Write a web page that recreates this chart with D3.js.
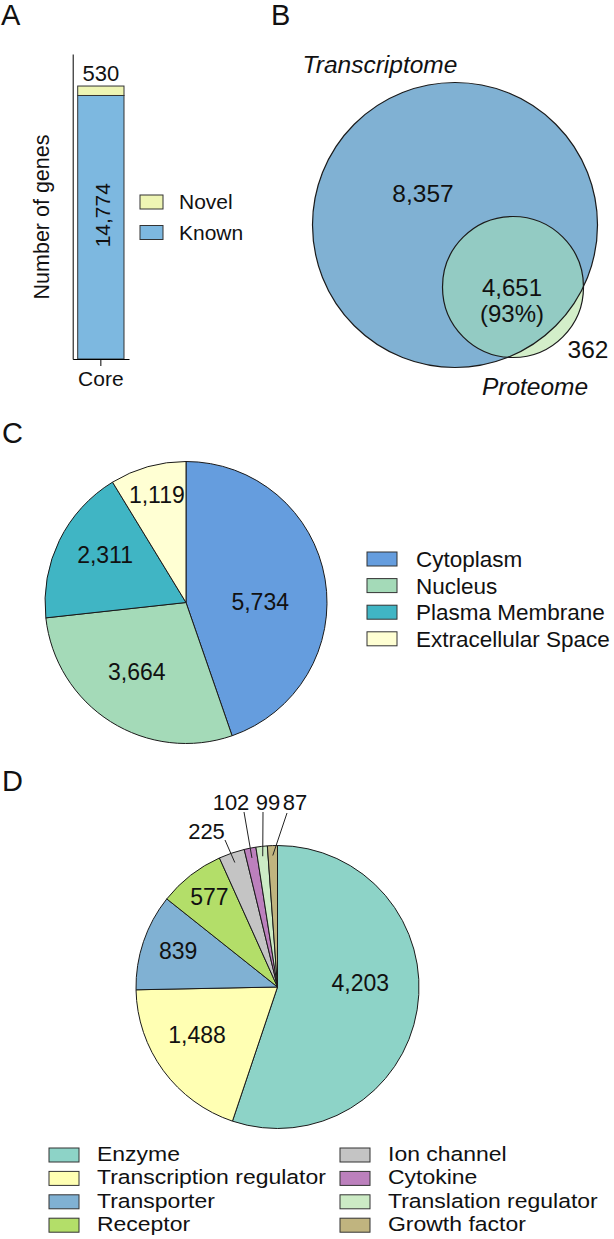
<!DOCTYPE html>
<html>
<head>
<meta charset="utf-8">
<script src="https://cdn.jsdelivr.net/npm/d3@7"></script>
<style>
  html, body { margin: 0; padding: 0; background: #fff; }
  svg { display: block; }
  text { font-family: "Liberation Sans", Arial, Helvetica, sans-serif; fill: #111; }
</style>
</head>
<body>
<svg id="fig" width="614" height="1239"></svg>
<script>
// ---------------- DATA ----------------
// Panel A: stacked bar
const barCategories = ["Core"];
const barSeries = ["Known", "Novel"];
const barKnown = [14774];
const barNovel = [530];
const barLegend = ["Novel", "Known"];
const barYLabel = "Number of genes";

// Panel B: Venn
const vennSets = ["Transcriptome", "Proteome"];
const vennTranscriptomeOnly = 8357;
const vennOverlap = 4651;
const vennProteomeOnly = 362;
const vennOverlapPct = "(93%)";

// Panel C: pie (cellular location)
const locCategories = ["Cytoplasm", "Nucleus", "Plasma Membrane", "Extracellular Space"];
const locValues = [5734, 3664, 2311, 1119];

// Panel D: pie (molecular type)
const typeCategories = ["Enzyme", "Transcription regulator", "Transporter", "Receptor",
                        "Ion channel", "Cytokine", "Translation regulator", "Growth factor"];
const typeValues = [4203, 1488, 839, 577, 225, 102, 99, 87];

// ---------------- STYLE ----------------
const barColors = { Known: "#7db8e0", Novel: "#eef5b4" };
const vennColors = { big: "#80b1d3", overlap: "#93cbc3", small: "#d3eec9" };
const locColors = ["#659dde", "#a4dab8", "#40b5c4", "#ffffd3"];
const typeColors = ["#8dd3c7", "#ffffb3", "#80b1d3", "#b3de69", "#c4c4c4", "#bc80bd", "#ccebc5", "#c0b47f"];
const stroke = "#1a1a1a";
const fmt = d3.format(",");

const svg = d3.select("#fig");

// stretch a text horizontally by a factor (reference glyphs are slightly wide)
function widen(sel, f) {
  sel.each(function () {
    const w = this.getComputedTextLength();
    d3.select(this).attr("textLength", w * f).attr("lengthAdjust", "spacingAndGlyphs");
  });
}

// Panel letters
[["A", 1, 25], ["B", 271, 25], ["C", 2, 443], ["D", 2, 791]].forEach(([t, x, y]) => {
  svg.append("text").attr("x", x).attr("y", y).attr("font-size", 29).text(t);
});

// ================= Panel A =================
(function () {
  const gA = svg.append("g");
  const y = d3.scaleLinear().domain([0, 17100]).range([359, 54]);
  const x = d3.scaleBand().domain(barCategories).range([72.7, 129]).paddingInner(0).paddingOuter(0.108);

  const rows = barCategories.map((c, i) => ({ cat: c, Known: barKnown[i], Novel: barNovel[i] }));
  const stacked = d3.stack().keys(barSeries)(rows);

  gA.selectAll("g.layer").data(stacked).join("g").attr("class", "layer")
    .attr("fill", d => barColors[d.key])
    .selectAll("rect").data(d => d).join("rect")
    .attr("x", d => x(d.data.cat))
    .attr("width", x.bandwidth())
    .attr("y", d => y(d[1]))
    .attr("height", d => y(d[0]) - y(d[1]))
    .attr("stroke", "#333").attr("stroke-width", 1);

  // axes
  gA.append("g").attr("transform", `translate(72.7,0)`)
    .call(d3.axisLeft(y).ticks(0).tickSizeOuter(0))
    .call(g => g.select(".domain").attr("stroke", "#000"));
  gA.append("g").attr("transform", `translate(0,359)`)
    .call(d3.axisBottom(x).tickSize(7).tickSizeOuter(0).tickPadding(5))
    .call(g => {
      g.select(".domain").attr("stroke", "#000");
      g.selectAll(".tick line").attr("stroke", "#000");
      g.selectAll(".tick text").attr("font-size", 21).attr("fill", "#111")
        .attr("font-family", "Liberation Sans, Arial, sans-serif").attr("dy", "0.73em");
    });

  // value labels
  const cx = x("Core") + x.bandwidth() / 2;
  gA.append("text").attr("x", cx).attr("y", y(barKnown[0] + barNovel[0]) - 5)
    .attr("text-anchor", "middle").attr("font-size", 22).text(fmt(barNovel[0]));
  const kMid = (y(0) + y(barKnown[0])) / 2 - 12;
  gA.append("text").attr("transform", `translate(${cx + 9},${kMid}) rotate(-90)`)
    .attr("text-anchor", "middle").attr("font-size", 21).text(fmt(barKnown[0]));

  // y label
  gA.append("text").attr("transform", `translate(49,217) rotate(-90)`)
    .attr("text-anchor", "middle").attr("font-size", 21.5).text(barYLabel);

  // legend
  const lg = gA.append("g").attr("transform", "translate(140,195)");
  barLegend.forEach((k, i) => {
    const r = lg.append("g").attr("transform", `translate(0,${i * 30.5})`);
    r.append("rect").attr("width", 23).attr("height", 14).attr("fill", barColors[k])
      .attr("stroke", "#333").attr("stroke-width", 1);
    r.append("text").attr("x", 39).attr("y", 14).attr("font-size", 21).text(k);
  });
})();

// ================= Panel B =================
(function () {
  const gB = svg.append("g");
  const tTotal = vennTranscriptomeOnly + vennOverlap;
  const pTotal = vennOverlap + vennProteomeOnly;
  const rScale = d3.scaleLinear().domain([pTotal, tTotal]).range([70.5, 142.5]);
  const big = { x: 455, y: 225, r: rScale(tTotal) };
  const small = { x: big.x + 58, y: big.y + 62, r: rScale(pTotal) };

  const defs = svg.append("defs");
  defs.append("clipPath").attr("id", "clipBig")
    .append("circle").attr("cx", big.x).attr("cy", big.y).attr("r", big.r);

  gB.append("circle").attr("cx", big.x).attr("cy", big.y).attr("r", big.r).attr("fill", vennColors.big);
  gB.append("circle").attr("cx", small.x).attr("cy", small.y).attr("r", small.r).attr("fill", vennColors.small);
  gB.append("circle").attr("cx", small.x).attr("cy", small.y).attr("r", small.r)
    .attr("fill", vennColors.overlap).attr("clip-path", "url(#clipBig)");
  gB.append("circle").attr("cx", big.x).attr("cy", big.y).attr("r", big.r)
    .attr("fill", "none").attr("stroke", stroke).attr("stroke-width", 1.2);
  gB.append("circle").attr("cx", small.x).attr("cy", small.y).attr("r", small.r)
    .attr("fill", "none").attr("stroke", stroke).attr("stroke-width", 1.2);

  const fs = 24.5;
  gB.append("text").attr("x", 380).attr("y", 73).attr("text-anchor", "middle")
    .attr("font-size", fs).attr("font-style", "italic").text(vennSets[0]);
  gB.append("text").attr("x", 535).attr("y", 395).attr("text-anchor", "middle")
    .attr("font-size", fs).attr("font-style", "italic").text(vennSets[1]);
  gB.append("text").attr("x", big.x - 32).attr("y", big.y - 23).attr("text-anchor", "middle")
    .attr("font-size", fs).text(fmt(vennTranscriptomeOnly));
  gB.append("text").attr("x", small.x - 1).attr("y", small.y + 9).attr("text-anchor", "middle")
    .attr("font-size", 24).text(fmt(vennOverlap));
  gB.append("text").attr("x", small.x - 1).attr("y", small.y + 35).attr("text-anchor", "middle")
    .attr("font-size", 24).text(vennOverlapPct);
  gB.append("text").attr("x", 588).attr("y", 358).attr("text-anchor", "middle")
    .attr("font-size", fs).text(fmt(vennProteomeOnly));
})();

// ================= Panel C =================
(function () {
  const cx = 186, cy = 602.5, R = 141;
  const g = svg.append("g").attr("transform", `translate(${cx},${cy})`);
  const pie = d3.pie().sort(null).value(d => d)(locValues);
  const arc = d3.arc().innerRadius(0).outerRadius(R);
  g.selectAll("path").data(pie).join("path")
    .attr("d", arc).attr("fill", (d, i) => locColors[i])
    .attr("stroke", stroke).attr("stroke-width", 1).attr("stroke-linejoin", "round");

  // label positions: centroid-based with small manual tweaks
  const labelArc = d3.arc().innerRadius(R * 0.62).outerRadius(R * 0.62);
  const tweak = [[-12, 14], [-2.5, -4], [-2.5, -9], [-5.5, -23.5]];
  g.selectAll("text.v").data(pie).join("text").attr("class", "v")
    .attr("x", (d, i) => labelArc.centroid(d)[0] + tweak[i][0])
    .attr("y", (d, i) => labelArc.centroid(d)[1] + tweak[i][1])
    .attr("text-anchor", "middle").attr("dy", "0.35em").attr("font-size", 23)
    .text(d => fmt(d.data));

  const lg = svg.append("g").attr("transform", "translate(367,552)");
  locCategories.forEach((k, i) => {
    const r = lg.append("g").attr("transform", `translate(0,${i * 26.6})`);
    r.append("rect").attr("width", 30).attr("height", 14).attr("fill", locColors[i])
      .attr("stroke", "#333").attr("stroke-width", 1);
    r.append("text").attr("x", 49).attr("y", 15).attr("font-size", 22.5).text(k);
  });
})();

// ================= Panel D =================
(function () {
  const cx = 277.5, cy = 987, R = 141.5;
  const g = svg.append("g").attr("transform", `translate(${cx},${cy})`);
  const pie = d3.pie().sort(null).value(d => d)(typeValues);
  const arc = d3.arc().innerRadius(0).outerRadius(R);
  g.selectAll("path").data(pie).join("path")
    .attr("d", arc).attr("fill", (d, i) => typeColors[i])
    .attr("stroke", stroke).attr("stroke-width", 1).attr("stroke-linejoin", "round");

  // inside labels for big slices
  const labelArc = d3.arc().innerRadius(R * 0.6).outerRadius(R * 0.6);
  const tweak = [[-1, -18], [-12, -2], [-19, -9], [-16, -23]];
  g.selectAll("text.v").data(pie.slice(0, 4)).join("text").attr("class", "v")
    .attr("x", (d, i) => labelArc.centroid(d)[0] + tweak[i][0])
    .attr("y", (d, i) => labelArc.centroid(d)[1] + tweak[i][1])
    .attr("text-anchor", "middle").attr("dy", "0.35em").attr("font-size", 23)
    .text(d => fmt(d.data));

  // outside labels with leader lines for small slices
  const innerArc = d3.arc().innerRadius(R * 0.93).outerRadius(R * 0.93);
  const outerEnds = [[-52.5, -147], [-33.5, -175], [-14.5, -175], [9.5, -174]];
  const labelPos = [[-71, -148], [-46.5, -177], [-9.5, -177], [17.5, -177]];
  pie.slice(4).forEach((d, i) => {
    const p = innerArc.centroid(d);
    g.append("line").attr("x1", p[0]).attr("y1", p[1])
      .attr("x2", outerEnds[i][0]).attr("y2", outerEnds[i][1])
      .attr("stroke", "#222").attr("stroke-width", 1);
    g.append("text").attr("x", labelPos[i][0]).attr("y", labelPos[i][1])
      .attr("text-anchor", "middle").attr("font-size", 22).text(fmt(d.data));
  });

  // legend: two columns of four
  const lg = svg.append("g");
  typeCategories.forEach((k, i) => {
    const col = Math.floor(i / 4), row = i % 4;
    const x0 = col === 0 ? 49 : 340;
    const base = 1161 + row * 23.4;
    lg.append("rect").attr("x", x0).attr("y", base - 13).attr("width", 30).attr("height", 14)
      .attr("fill", typeColors[i]).attr("stroke", "#333").attr("stroke-width", 1);
    lg.append("text").attr("x", x0 + 48).attr("y", base).attr("font-size", 20.5).text(k)
      .call(widen, 1.12);
  });
})();
</script>
</body>
</html>
